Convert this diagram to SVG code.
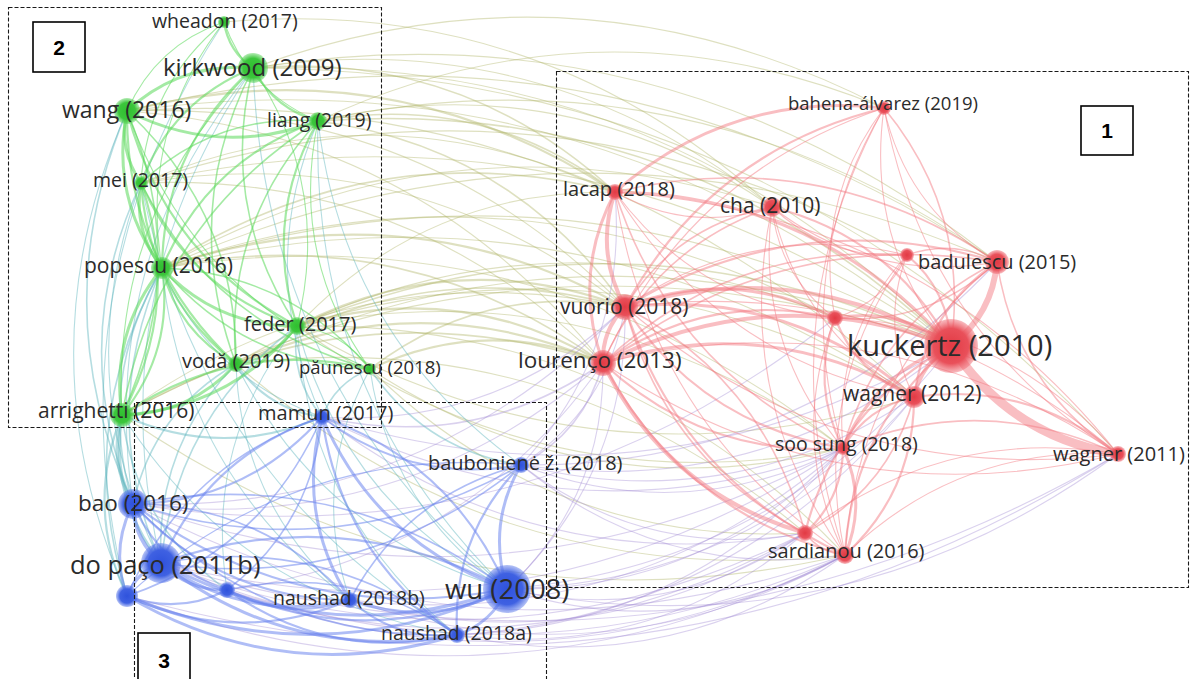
<svg xmlns="http://www.w3.org/2000/svg" xmlns:xlink="http://www.w3.org/1999/xlink" width="1193" height="679" viewBox="0 0 1193 679">
<defs>
  <!-- unit link: runs from (0,0) to (1,0); each link maps it with matrix(dx dy -dy dx x1 y1) -->
  <path id="lk" d="M0 0Q0.5 0.22 1 0" fill="none" vector-effect="non-scaling-stroke"/>
  <radialGradient id="gG"><stop offset="0" stop-color="#2fbf2f"/><stop offset="0.65" stop-color="#3cc63c"/><stop offset="1" stop-color="#55d255" stop-opacity="0.45"/></radialGradient>
  <radialGradient id="gR"><stop offset="0" stop-color="#e23a44"/><stop offset="0.65" stop-color="#e9505a"/><stop offset="1" stop-color="#ef6a73" stop-opacity="0.45"/></radialGradient>
  <radialGradient id="gB"><stop offset="0" stop-color="#2f52dc"/><stop offset="0.65" stop-color="#3f61e2"/><stop offset="1" stop-color="#5a78ea" stop-opacity="0.45"/></radialGradient>
</defs>
<style>
  .gg{stroke:#5ad85a;stroke-opacity:.55}
  .gb{stroke:#5cb4bd;stroke-opacity:.45}
  .gr{stroke:#b0b468;stroke-opacity:.42}
  .bb{stroke:#6680ee;stroke-opacity:.52}
  .br{stroke:#9f85d2;stroke-opacity:.38}
  .rr{stroke:#f27880;stroke-opacity:.48}
  .a{stroke-width:1.1}.b{stroke-width:1.6}.c{stroke-width:2.2}.d{stroke-width:3}.e{stroke-width:4}.f{stroke-width:6}.h{stroke-width:9}
  .node text{font-family:"Open Sans","Noto Sans","DejaVu Sans",sans-serif;fill:#2b2b2b}
  .ng circle{fill:url(#gG)}.nr circle{fill:url(#gR)}.nb circle{fill:url(#gB)}
  .frame{fill:none;stroke:#1a1a1a;stroke-width:1.1;stroke-dasharray:4 2}
  .tag rect{fill:#fff;stroke:#000;stroke-width:1.6}
  .tag text{font-family:"Liberation Sans",Arial,sans-serif;font-weight:bold;font-size:21px;fill:#000;text-anchor:middle}
</style>
<rect width="1193" height="679" fill="#fff"/>

<g id="links">
  <g class="gr">
    <use href="#lk" class="b" transform="matrix(-362 -124 124 -362 615 192)"/>
    <use href="#lk" class="c" transform="matrix(-488 -81 81 -488 615 192)"/>
    <use href="#lk" class="a" transform="matrix(-498 -196 196 -498 625 307)"/>
    <use href="#lk" class="c" transform="matrix(-463 -39 39 -463 625 307)"/>
    <use href="#lk" class="b" transform="matrix(-441 -95 95 -441 603 363)"/>
    <use href="#lk" class="c" transform="matrix(-306 -37 37 -306 603 363)"/>
    <use href="#lk" class="c" transform="matrix(-328 19 -19 -328 625 307)"/>
    <use href="#lk" class="a" transform="matrix(-698 -278 278 -698 951 346)"/>
    <use href="#lk" class="a" transform="matrix(-824 -235 235 -824 951 346)"/>
    <use href="#lk" class="b" transform="matrix(-633 -225 225 -633 951 346)"/>
    <use href="#lk" class="a" transform="matrix(-519 -139 139 -519 772 207)"/>
    <use href="#lk" class="a" transform="matrix(-631 -40 40 -631 884 108)"/>
    <use href="#lk" class="a" transform="matrix(-566 13 -13 -566 884 108)"/>
    <use href="#lk" class="a" transform="matrix(-870 -151 151 -870 997 262)"/>
    <use href="#lk" class="a" transform="matrix(-673 -50 50 -673 835 318)"/>
    <use href="#lk" class="a" transform="matrix(-617 -71 71 -617 914 397)"/>
    <use href="#lk" class="b" transform="matrix(-297 -71 71 -297 615 192)"/>
    <use href="#lk" class="b" transform="matrix(-307 -186 186 -307 625 307)"/>
    <use href="#lk" class="b" transform="matrix(-481 52 -52 -481 603 363)"/>
    <use href="#lk" class="c" transform="matrix(-367 1 -1 -367 603 363)"/>
    <use href="#lk" class="b" transform="matrix(-255 62 -62 -255 625 307)"/>
    <use href="#lk" class="c" transform="matrix(-233 6 -6 -233 603 363)"/>
    <use href="#lk" class="a" transform="matrix(-546 -122 122 -546 843 448)"/>
    <use href="#lk" class="a" transform="matrix(-766 -72 72 -766 907 255)"/>
    <use href="#lk" class="a" transform="matrix(-610 61 -61 -610 772 207)"/>
    <use href="#lk" class="a" transform="matrix(-810 -163 163 -810 951 346)"/>
    <use href="#lk" class="a" transform="matrix(-474 -9 9 -474 615 192)"/>
    <use href="#lk" class="a" transform="matrix(-503 108 -108 -503 625 307)"/>
    <use href="#lk" class="a" transform="matrix(-679 -141 141 -679 997 262)"/>
    <use href="#lk" class="a" transform="matrix(-865 -386 386 -865 1118 454)"/>
    <use href="#lk" class="a" transform="matrix(-744 -194 194 -744 997 262)"/>
    <use href="#lk" class="a" transform="matrix(-548 -185 185 -548 772 207)"/>
    <use href="#lk" class="a" transform="matrix(-787 -286 286 -787 914 397)"/>
    <use href="#lk" class="a" transform="matrix(-476 -252 252 -476 603 363)"/>
    <use href="#lk" class="a" transform="matrix(-462 -180 180 -462 603 363)"/>
    <use href="#lk" class="a" transform="matrix(-752 -129 129 -752 914 397)"/>
    <use href="#lk" class="a" transform="matrix(-789 -78 78 -789 951 346)"/>
    <use href="#lk" class="b" transform="matrix(-654 -20 20 -654 951 346)"/>
    <use href="#lk" class="a" transform="matrix(-715 18 -18 -715 951 346)"/>
    <use href="#lk" class="a" transform="matrix(-829 69 -69 -829 951 346)"/>
    <use href="#lk" class="a" transform="matrix(-538 8 -8 -538 835 318)"/>
    <use href="#lk" class="a" transform="matrix(-454 -86 86 -454 772 207)"/>
    <use href="#lk" class="b" transform="matrix(-453 76 -76 -453 615 192)"/>
    <use href="#lk" class="a" transform="matrix(-318 134 -134 -318 615 192)"/>
    <use href="#lk" class="a" transform="matrix(-681 -180 180 -681 843 448)"/>
    <use href="#lk" class="a" transform="matrix(-548 -229 229 -548 845 555)"/>
    <use href="#lk" class="a" transform="matrix(-569 -169 169 -569 805 533)"/>
    <use href="#lk" class="a" transform="matrix(-835 6 -6 -835 997 262)"/>
    <use href="#lk" class="a" transform="matrix(-484 -124 124 -484 625 307)"/>
    <use href="#lk" class="b" transform="matrix(-389 57 -57 -389 625 307)"/>
    <use href="#lk" class="a" transform="matrix(473 79 -79 473 370 369)"/>
    <use href="#lk" class="a" transform="matrix(617 71 -71 617 297 326)"/>
    <use href="#lk" class="a" transform="matrix(609 191 -191 609 236 364)"/>
    <use href="#lk" class="a" transform="matrix(435 164 -164 435 370 369)"/>
    <use href="#lk" class="a" transform="matrix(546 122 -122 546 297 326)"/>
    <use href="#lk" class="a" transform="matrix(723 140 -140 723 122 415)"/>
  </g>
  <g class="br">
    <use href="#lk" class="a" transform="matrix(338 -34 34 338 507 589)"/>
    <use href="#lk" class="a" transform="matrix(298 -56 56 298 507 589)"/>
    <use href="#lk" class="a" transform="matrix(444 -243 243 444 507 589)"/>
    <use href="#lk" class="a" transform="matrix(388 -80 80 388 457 635)"/>
    <use href="#lk" class="a" transform="matrix(348 -102 102 348 457 635)"/>
    <use href="#lk" class="a" transform="matrix(718 -41 41 718 127 596)"/>
    <use href="#lk" class="a" transform="matrix(644 -30 30 644 161 563)"/>
    <use href="#lk" class="a" transform="matrix(682 -115 115 682 161 563)"/>
    <use href="#lk" class="a" transform="matrix(470 -141 141 470 133 504)"/>
    <use href="#lk" class="a" transform="matrix(492 -197 197 492 133 504)"/>
    <use href="#lk" class="b" transform="matrix(82 -102 102 82 521 465)"/>
    <use href="#lk" class="a" transform="matrix(104 -158 158 104 521 465)"/>
    <use href="#lk" class="a" transform="matrix(322 -17 17 322 521 465)"/>
    <use href="#lk" class="a" transform="matrix(393 -68 68 393 521 465)"/>
    <use href="#lk" class="b" transform="matrix(281 -54 54 281 322 417)"/>
    <use href="#lk" class="a" transform="matrix(303 -110 110 303 322 417)"/>
    <use href="#lk" class="a" transform="matrix(629 -71 71 629 322 417)"/>
    <use href="#lk" class="a" transform="matrix(96 -226 226 96 507 589)"/>
    <use href="#lk" class="a" transform="matrix(336 -141 141 336 507 589)"/>
    <use href="#lk" class="a" transform="matrix(495 -45 45 495 350 600)"/>
    <use href="#lk" class="a" transform="matrix(493 -152 152 493 350 600)"/>
    <use href="#lk" class="a" transform="matrix(618 -35 35 618 227 590)"/>
    <use href="#lk" class="a" transform="matrix(376 -227 227 376 227 590)"/>
    <use href="#lk" class="a" transform="matrix(611 -135 135 611 507 589)"/>
    <use href="#lk" class="a" transform="matrix(457 -238 238 457 457 635)"/>
    <use href="#lk" class="a" transform="matrix(284 68 -68 284 521 465)"/>
    <use href="#lk" class="a" transform="matrix(324 90 -90 324 521 465)"/>
    <use href="#lk" class="a" transform="matrix(702 -186 186 702 133 504)"/>
    <use href="#lk" class="a" transform="matrix(957 -109 109 957 161 563)"/>
    <use href="#lk" class="a" transform="matrix(991 -142 142 991 127 596)"/>
    <use href="#lk" class="a" transform="matrix(430 -119 119 430 521 465)"/>
    <use href="#lk" class="a" transform="matrix(476 -203 203 476 521 465)"/>
    <use href="#lk" class="a" transform="matrix(407 -192 192 407 507 589)"/>
    <use href="#lk" class="a" transform="matrix(386 -187 187 386 457 635)"/>
    <use href="#lk" class="a" transform="matrix(521 31 -31 521 322 417)"/>
    <use href="#lk" class="a" transform="matrix(483 116 -116 483 322 417)"/>
    <use href="#lk" class="a" transform="matrix(710 -56 56 710 133 504)"/>
    <use href="#lk" class="a" transform="matrix(712 51 -51 712 133 504)"/>
    <use href="#lk" class="a" transform="matrix(684 -8 8 684 161 563)"/>
    <use href="#lk" class="a" transform="matrix(455 -67 67 455 350 600)"/>
    <use href="#lk" class="a" transform="matrix(578 -57 57 578 227 590)"/>
    <use href="#lk" class="a" transform="matrix(118 -282 282 118 507 589)"/>
    <use href="#lk" class="a" transform="matrix(94 -273 273 94 521 465)"/>
  </g>
  <g class="gb">
    <use href="#lk" class="d" transform="matrix(11 89 -89 11 122 415)"/>
    <use href="#lk" class="d" transform="matrix(39 148 -148 39 122 415)"/>
    <use href="#lk" class="c" transform="matrix(5 181 -181 5 122 415)"/>
    <use href="#lk" class="c" transform="matrix(200 2 -2 200 122 415)"/>
    <use href="#lk" class="b" transform="matrix(-29 236 -236 -29 162 268)"/>
    <use href="#lk" class="b" transform="matrix(-1 295 -295 -1 162 268)"/>
    <use href="#lk" class="a" transform="matrix(0 485 -485 0 127 111)"/>
    <use href="#lk" class="a" transform="matrix(-120 436 -436 -120 253 68)"/>
    <use href="#lk" class="a" transform="matrix(20 380 -380 20 141 183)"/>
    <use href="#lk" class="a" transform="matrix(-97 574 -574 -97 224 22)"/>
    <use href="#lk" class="b" transform="matrix(25 91 -91 25 297 326)"/>
    <use href="#lk" class="a" transform="matrix(210 263 -263 210 297 326)"/>
    <use href="#lk" class="b" transform="matrix(-75 199 -199 -75 236 364)"/>
    <use href="#lk" class="c" transform="matrix(86 53 -53 86 236 364)"/>
    <use href="#lk" class="a" transform="matrix(114 236 -236 114 236 364)"/>
    <use href="#lk" class="a" transform="matrix(4 296 -296 4 318 121)"/>
    <use href="#lk" class="a" transform="matrix(189 468 -468 189 318 121)"/>
    <use href="#lk" class="b" transform="matrix(151 96 -96 151 370 369)"/>
    <use href="#lk" class="a" transform="matrix(137 220 -220 137 370 369)"/>
    <use href="#lk" class="a" transform="matrix(-70 264 -264 -70 297 326)"/>
    <use href="#lk" class="a" transform="matrix(188 332 -332 188 162 268)"/>
    <use href="#lk" class="a" transform="matrix(316 452 -452 316 141 183)"/>
    <use href="#lk" class="a" transform="matrix(254 521 -521 254 253 68)"/>
    <use href="#lk" class="a" transform="matrix(335 220 -220 335 122 415)"/>
    <use href="#lk" class="b" transform="matrix(105 175 -175 105 122 415)"/>
    <use href="#lk" class="a" transform="matrix(160 149 -149 160 162 268)"/>
    <use href="#lk" class="b" transform="matrix(6 393 -393 6 127 111)"/>
    <use href="#lk" class="b" transform="matrix(-8 321 -321 -8 141 183)"/>
    <use href="#lk" class="b" transform="matrix(-35 328 -328 -35 162 268)"/>
    <use href="#lk" class="a" transform="matrix(-92 495 -495 -92 253 68)"/>
    <use href="#lk" class="a" transform="matrix(271 225 -225 271 236 364)"/>
    <use href="#lk" class="b" transform="matrix(-103 140 -140 -103 236 364)"/>
    <use href="#lk" class="b" transform="matrix(-136 237 -237 -136 297 326)"/>
    <use href="#lk" class="a" transform="matrix(160 309 -309 160 297 326)"/>
    <use href="#lk" class="a" transform="matrix(-20 231 -231 -20 370 369)"/>
    <use href="#lk" class="b" transform="matrix(-48 48 -48 -48 370 369)"/>
    <use href="#lk" class="a" transform="matrix(203 344 -344 203 318 121)"/>
  </g>
  <g class="gg">
    <use href="#lk" class="c" transform="matrix(29 46 -46 29 224 22)"/>
    <use href="#lk" class="d" transform="matrix(-126 43 -43 -126 253 68)"/>
    <use href="#lk" class="d" transform="matrix(191 10 -10 191 127 111)"/>
    <use href="#lk" class="c" transform="matrix(65 53 -53 65 253 68)"/>
    <use href="#lk" class="d" transform="matrix(14 72 -72 14 127 111)"/>
    <use href="#lk" class="d" transform="matrix(35 157 -157 35 127 111)"/>
    <use href="#lk" class="d" transform="matrix(21 85 -85 21 141 183)"/>
    <use href="#lk" class="d" transform="matrix(135 58 -58 135 162 268)"/>
    <use href="#lk" class="d" transform="matrix(-40 147 -147 -40 162 268)"/>
    <use href="#lk" class="c" transform="matrix(74 96 -96 74 162 268)"/>
    <use href="#lk" class="c" transform="matrix(170 215 -215 170 127 111)"/>
    <use href="#lk" class="c" transform="matrix(109 253 -253 109 127 111)"/>
    <use href="#lk" class="c" transform="matrix(-91 200 -200 -91 253 68)"/>
    <use href="#lk" class="b" transform="matrix(44 258 -258 44 253 68)"/>
    <use href="#lk" class="c" transform="matrix(-21 205 -205 -21 318 121)"/>
    <use href="#lk" class="c" transform="matrix(-156 147 -147 -156 318 121)"/>
    <use href="#lk" class="b" transform="matrix(-82 243 -243 -82 318 121)"/>
    <use href="#lk" class="b" transform="matrix(-196 294 -294 -196 318 121)"/>
    <use href="#lk" class="d" transform="matrix(114 -51 51 114 122 415)"/>
    <use href="#lk" class="d" transform="matrix(175 -89 89 175 122 415)"/>
    <use href="#lk" class="c" transform="matrix(19 -232 232 19 122 415)"/>
    <use href="#lk" class="b" transform="matrix(5 -304 304 5 122 415)"/>
    <use href="#lk" class="c" transform="matrix(156 143 -143 156 141 183)"/>
    <use href="#lk" class="c" transform="matrix(95 181 -181 95 141 183)"/>
    <use href="#lk" class="c" transform="matrix(61 -38 38 61 236 364)"/>
    <use href="#lk" class="b" transform="matrix(-208 -101 101 -208 370 369)"/>
    <use href="#lk" class="c" transform="matrix(-248 46 -46 -248 370 369)"/>
    <use href="#lk" class="a" transform="matrix(-97 89 -89 -97 224 22)"/>
    <use href="#lk" class="a" transform="matrix(-131 347 -347 -131 253 68)"/>
    <use href="#lk" class="a" transform="matrix(-62 246 -246 -62 224 22)"/>
    <use href="#lk" class="c" transform="matrix(-112 115 -115 -112 253 68)"/>
    <use href="#lk" class="b" transform="matrix(-177 62 -62 -177 318 121)"/>
    <use href="#lk" class="a" transform="matrix(-73 -43 43 -73 370 369)"/>
    <use href="#lk" class="a" transform="matrix(94 99 -99 94 224 22)"/>
    <use href="#lk" class="a" transform="matrix(-83 161 -161 -83 224 22)"/>
    <use href="#lk" class="b" transform="matrix(-17 296 -296 -17 253 68)"/>
    <use href="#lk" class="a" transform="matrix(243 258 -258 243 127 111)"/>
    <use href="#lk" class="b" transform="matrix(229 186 -186 229 141 183)"/>
    <use href="#lk" class="b" transform="matrix(208 101 -101 208 162 268)"/>
    <use href="#lk" class="a" transform="matrix(52 248 -248 52 318 121)"/>
    <use href="#lk" class="c" transform="matrix(40 -147 147 40 122 415)"/>
    <use href="#lk" class="a" transform="matrix(-44 -258 258 -44 297 326)"/>
    <use href="#lk" class="b" transform="matrix(-109 -253 253 -109 236 364)"/>
  </g>
  <g class="bb">
    <use href="#lk" class="e" transform="matrix(28 59 -59 28 133 504)"/>
    <use href="#lk" class="d" transform="matrix(-34 33 -33 -34 161 563)"/>
    <use href="#lk" class="d" transform="matrix(-6 92 -92 -6 133 504)"/>
    <use href="#lk" class="d" transform="matrix(66 27 -27 66 161 563)"/>
    <use href="#lk" class="d" transform="matrix(189 37 -37 189 161 563)"/>
    <use href="#lk" class="d" transform="matrix(346 26 -26 346 161 563)"/>
    <use href="#lk" class="d" transform="matrix(296 72 -72 296 161 563)"/>
    <use href="#lk" class="d" transform="matrix(380 -7 7 380 127 596)"/>
    <use href="#lk" class="d" transform="matrix(330 39 -39 330 127 596)"/>
    <use href="#lk" class="c" transform="matrix(223 4 -4 223 127 596)"/>
    <use href="#lk" class="c" transform="matrix(374 85 -85 374 133 504)"/>
    <use href="#lk" class="c" transform="matrix(217 96 -96 217 133 504)"/>
    <use href="#lk" class="c" transform="matrix(189 -87 87 189 133 504)"/>
    <use href="#lk" class="d" transform="matrix(185 172 -172 185 322 417)"/>
    <use href="#lk" class="d" transform="matrix(28 183 -183 28 322 417)"/>
    <use href="#lk" class="c" transform="matrix(135 218 -218 135 322 417)"/>
    <use href="#lk" class="c" transform="matrix(-161 146 -146 -161 322 417)"/>
    <use href="#lk" class="c" transform="matrix(199 48 -48 199 322 417)"/>
    <use href="#lk" class="d" transform="matrix(-14 124 -124 -14 521 465)"/>
    <use href="#lk" class="c" transform="matrix(-64 170 -170 -64 521 465)"/>
    <use href="#lk" class="d" transform="matrix(157 -11 11 157 350 600)"/>
    <use href="#lk" class="c" transform="matrix(107 35 -35 107 350 600)"/>
    <use href="#lk" class="d" transform="matrix(50 -46 46 50 457 635)"/>
    <use href="#lk" class="c" transform="matrix(280 -1 1 280 227 590)"/>
    <use href="#lk" class="c" transform="matrix(230 45 -45 230 227 590)"/>
    <use href="#lk" class="c" transform="matrix(123 10 -10 123 227 590)"/>
    <use href="#lk" class="b" transform="matrix(388 -39 39 388 133 504)"/>
    <use href="#lk" class="b" transform="matrix(360 -98 98 360 161 563)"/>
    <use href="#lk" class="b" transform="matrix(95 -173 173 95 227 590)"/>
    <use href="#lk" class="b" transform="matrix(195 -179 179 195 127 596)"/>
    <use href="#lk" class="b" transform="matrix(324 131 -131 324 133 504)"/>
    <use href="#lk" class="c" transform="matrix(94 86 -86 94 133 504)"/>
    <use href="#lk" class="c" transform="matrix(100 -6 6 100 127 596)"/>
    <use href="#lk" class="b" transform="matrix(-195 179 -179 -195 322 417)"/>
    <use href="#lk" class="b" transform="matrix(-171 135 -135 -171 521 465)"/>
    <use href="#lk" class="a" transform="matrix(-394 131 -131 -394 521 465)"/>
    <use href="#lk" class="b" transform="matrix(-374 -85 85 -374 507 589)"/>
    <use href="#lk" class="c" transform="matrix(-185 -172 172 -185 507 589)"/>
    <use href="#lk" class="b" transform="matrix(-296 -72 72 -296 457 635)"/>
    <use href="#lk" class="b" transform="matrix(-217 -96 96 -217 350 600)"/>
    <use href="#lk" class="c" transform="matrix(-346 -26 26 -346 507 589)"/>
    <use href="#lk" class="b" transform="matrix(-230 -45 45 -230 457 635)"/>
  </g>
  <g class="rr">
    <use href="#lk" class="f" transform="matrix(46 -84 84 46 951 346)"/>
    <use href="#lk" class="h" transform="matrix(167 108 -108 167 951 346)"/>
    <use href="#lk" class="e" transform="matrix(-37 51 -51 -37 951 346)"/>
    <use href="#lk" class="e" transform="matrix(-326 -39 39 -326 951 346)"/>
    <use href="#lk" class="e" transform="matrix(-348 17 -17 -348 951 346)"/>
    <use href="#lk" class="d" transform="matrix(-116 -28 28 -116 951 346)"/>
    <use href="#lk" class="c" transform="matrix(-179 -139 139 -179 951 346)"/>
    <use href="#lk" class="d" transform="matrix(-336 -154 154 -336 951 346)"/>
    <use href="#lk" class="d" transform="matrix(-108 102 -102 -108 951 346)"/>
    <use href="#lk" class="c" transform="matrix(-106 209 -209 -106 951 346)"/>
    <use href="#lk" class="c" transform="matrix(-146 187 -187 -146 951 346)"/>
    <use href="#lk" class="b" transform="matrix(-67 -238 238 -67 951 346)"/>
    <use href="#lk" class="c" transform="matrix(-44 -91 91 -44 951 346)"/>
    <use href="#lk" class="e" transform="matrix(10 115 -115 10 615 192)"/>
    <use href="#lk" class="d" transform="matrix(-12 171 -171 -12 615 192)"/>
    <use href="#lk" class="e" transform="matrix(-22 56 -56 -22 625 307)"/>
    <use href="#lk" class="d" transform="matrix(-269 84 -84 -269 884 108)"/>
    <use href="#lk" class="c" transform="matrix(-259 199 -199 -259 884 108)"/>
    <use href="#lk" class="b" transform="matrix(-169 156 -156 -169 772 207)"/>
    <use href="#lk" class="b" transform="matrix(-147 100 -100 -147 772 207)"/>
    <use href="#lk" class="d" transform="matrix(-210 -11 11 -210 835 318)"/>
    <use href="#lk" class="c" transform="matrix(-232 45 -45 -232 835 318)"/>
    <use href="#lk" class="d" transform="matrix(-289 -90 90 -289 914 397)"/>
    <use href="#lk" class="d" transform="matrix(-311 -34 34 -311 914 397)"/>
    <use href="#lk" class="c" transform="matrix(218 141 -141 218 625 307)"/>
    <use href="#lk" class="c" transform="matrix(240 85 -85 240 603 363)"/>
    <use href="#lk" class="e" transform="matrix(202 170 -170 202 603 363)"/>
    <use href="#lk" class="c" transform="matrix(220 248 -248 220 625 307)"/>
    <use href="#lk" class="b" transform="matrix(228 256 -256 228 615 192)"/>
    <use href="#lk" class="a" transform="matrix(230 363 -363 230 615 192)"/>
    <use href="#lk" class="c" transform="matrix(-83 135 -135 -83 997 262)"/>
    <use href="#lk" class="b" transform="matrix(121 192 -192 121 997 262)"/>
    <use href="#lk" class="b" transform="matrix(-90 -7 7 -90 997 262)"/>
    <use href="#lk" class="b" transform="matrix(-154 186 -186 -154 997 262)"/>
    <use href="#lk" class="a" transform="matrix(-152 293 -293 -152 997 262)"/>
    <use href="#lk" class="b" transform="matrix(-382 -70 70 -382 997 262)"/>
    <use href="#lk" class="c" transform="matrix(-372 45 -45 -372 997 262)"/>
    <use href="#lk" class="b" transform="matrix(-394 101 -101 -394 997 262)"/>
    <use href="#lk" class="b" transform="matrix(-304 108 -108 -304 907 255)"/>
    <use href="#lk" class="a" transform="matrix(-282 52 -52 -282 907 255)"/>
    <use href="#lk" class="a" transform="matrix(7 142 -142 7 907 255)"/>
    <use href="#lk" class="a" transform="matrix(-64 193 -193 -64 907 255)"/>
    <use href="#lk" class="a" transform="matrix(63 111 -111 63 772 207)"/>
    <use href="#lk" class="a" transform="matrix(71 241 -241 71 772 207)"/>
    <use href="#lk" class="a" transform="matrix(73 348 -348 73 772 207)"/>
    <use href="#lk" class="a" transform="matrix(225 55 -55 225 772 207)"/>
    <use href="#lk" class="a" transform="matrix(142 190 -190 142 772 207)"/>
    <use href="#lk" class="a" transform="matrix(67 238 -238 67 884 108)"/>
    <use href="#lk" class="a" transform="matrix(113 154 -154 113 884 108)"/>
    <use href="#lk" class="a" transform="matrix(234 346 -346 234 884 108)"/>
    <use href="#lk" class="a" transform="matrix(-41 340 -340 -41 884 108)"/>
    <use href="#lk" class="a" transform="matrix(-49 210 -210 -49 884 108)"/>
    <use href="#lk" class="c" transform="matrix(-204 -57 57 -204 1118 454)"/>
    <use href="#lk" class="b" transform="matrix(-275 -6 6 -275 1118 454)"/>
    <use href="#lk" class="a" transform="matrix(-515 -91 91 -515 1118 454)"/>
    <use href="#lk" class="a" transform="matrix(-493 -147 147 -493 1118 454)"/>
    <use href="#lk" class="a" transform="matrix(-273 101 -101 -273 1118 454)"/>
    <use href="#lk" class="a" transform="matrix(-313 79 -79 -313 1118 454)"/>
    <use href="#lk" class="a" transform="matrix(-283 -136 136 -283 1118 454)"/>
    <use href="#lk" class="a" transform="matrix(-503 -262 262 -503 1118 454)"/>
    <use href="#lk" class="d" transform="matrix(-2 -107 107 -2 845 555)"/>
    <use href="#lk" class="c" transform="matrix(69 -158 158 69 845 555)"/>
    <use href="#lk" class="c" transform="matrix(38 -85 85 38 805 533)"/>
    <use href="#lk" class="b" transform="matrix(109 -136 136 109 805 533)"/>
    <use href="#lk" class="b" transform="matrix(40 22 -22 40 805 533)"/>
    <use href="#lk" class="b" transform="matrix(-180 -226 226 -180 805 533)"/>
    <use href="#lk" class="c" transform="matrix(-71 51 -51 -71 914 397)"/>
    <use href="#lk" class="c" transform="matrix(8 130 -130 8 835 318)"/>
    <use href="#lk" class="c" transform="matrix(79 79 -79 79 835 318)"/>
    <use href="#lk" class="a" transform="matrix(10 237 -237 10 835 318)"/>
    <use href="#lk" class="a" transform="matrix(157 15 -15 157 615 192)"/>
    <use href="#lk" class="a" transform="matrix(220 126 -126 220 615 192)"/>
    <use href="#lk" class="a" transform="matrix(299 205 -205 299 615 192)"/>
    <use href="#lk" class="b" transform="matrix(180 226 -226 180 625 307)"/>
    <use href="#lk" class="c" transform="matrix(242 192 -192 242 603 363)"/>
    <use href="#lk" class="a" transform="matrix(515 91 -91 515 603 363)"/>
    <use href="#lk" class="a" transform="matrix(493 147 -147 493 625 307)"/>
    <use href="#lk" class="a" transform="matrix(72 -63 63 72 835 318)"/>
    <use href="#lk" class="b" transform="matrix(162 -56 56 162 835 318)"/>
    <use href="#lk" class="a" transform="matrix(-62 300 -300 -62 907 255)"/>
    <use href="#lk" class="a" transform="matrix(-39 447 -447 -39 884 108)"/>
    <use href="#lk" class="a" transform="matrix(-281 255 -255 -281 884 108)"/>
    <use href="#lk" class="a" transform="matrix(135 48 -48 135 772 207)"/>
  </g>
</g>

<g id="nodes">
  <!-- cluster 2 (green) -->
  <g id="n-wheadon-2017" class="node ng"><circle cx="224" cy="22" r="6"/><text x="152" y="28" font-size="19.5">wheadon (2017)</text></g>
  <g id="n-kirkwood-2009" class="node ng"><circle cx="253" cy="68" r="15"/><text x="163" y="76" font-size="24">kirkwood (2009)</text></g>
  <g id="n-wang-2016" class="node ng"><circle cx="127" cy="111" r="13"/><text x="62" y="118" font-size="23">wang (2016)</text></g>
  <g id="n-liang-2019" class="node ng"><circle cx="318" cy="121" r="9"/><text x="267" y="127" font-size="19.5">liang (2019)</text></g>
  <g id="n-mei-2017" class="node ng"><circle cx="141" cy="183" r="7"/><text x="93" y="187" font-size="19.5">mei (2017)</text></g>
  <g id="n-popescu-2016" class="node ng"><circle cx="162" cy="268" r="11"/><text x="84" y="273" font-size="21">popescu (2016)</text></g>
  <g id="n-feder-2017" class="node ng"><circle cx="297" cy="326" r="9"/><text x="244" y="331" font-size="20">feder (2017)</text></g>
  <g id="n-voda-2019" class="node ng"><circle cx="236" cy="364" r="8"/><text x="182" y="368" font-size="20">vodă (2019)</text></g>
  <g id="n-paunescu-2018" class="node ng"><circle cx="370" cy="369" r="6"/><text x="299" y="374" font-size="18.5">păunescu (2018)</text></g>
  <g id="n-arrighetti-2016" class="node ng"><circle cx="122" cy="415" r="12"/><text x="38" y="418" font-size="21">arrighetti (2016)</text></g>
  <!-- cluster 3 (blue) -->
  <g id="n-mamun-2017" class="node nb"><circle cx="322" cy="417" r="8"/><text x="258" y="420" font-size="20">mamun (2017)</text></g>
  <g id="n-bauboniene-2018" class="node nb"><circle cx="521" cy="465" r="8"/><text x="428" y="470" font-size="20">baubonienė ž. (2018)</text></g>
  <g id="n-bao-2016" class="node nb"><circle cx="133" cy="504" r="15"/><text x="78" y="511" font-size="22.5">bao (2016)</text></g>
  <g id="n-dopaco-2011b" class="node nb"><circle cx="161" cy="563" r="20"/><text x="70" y="574" font-size="25.5">do paço (2011b)</text></g>
  <g id="n-blue-a" class="node nb"><circle cx="127" cy="596" r="11"/></g>
  <g id="n-blue-b" class="node nb"><circle cx="227" cy="590" r="8"/></g>
  <g id="n-naushad-2018b" class="node nb"><circle cx="350" cy="600" r="8"/><text x="273" y="605" font-size="19.5">naushad (2018b)</text></g>
  <g id="n-wu-2008" class="node nb"><circle cx="507" cy="589" r="24"/><text x="445" y="599" font-size="27.5">wu (2008)</text></g>
  <g id="n-naushad-2018a" class="node nb"><circle cx="457" cy="635" r="8"/><text x="381" y="640" font-size="19.5">naushad (2018a)</text></g>
  <!-- cluster 1 (red) -->
  <g id="n-bahena-2019" class="node nr"><circle cx="884" cy="108" r="7"/><text x="788" y="110" font-size="18.5">bahena-álvarez (2019)</text></g>
  <g id="n-lacap-2018" class="node nr"><circle cx="615" cy="192" r="8"/><text x="563" y="196" font-size="20">lacap (2018)</text></g>
  <g id="n-cha-2010" class="node nr"><circle cx="772" cy="207" r="10"/><text x="720" y="213" font-size="21">cha (2010)</text></g>
  <g id="n-red-a" class="node nr"><circle cx="907" cy="255" r="7"/></g>
  <g id="n-badulescu-2015" class="node nr"><circle cx="997" cy="262" r="12"/><text x="918" y="269" font-size="20">badulescu (2015)</text></g>
  <g id="n-vuorio-2018" class="node nr"><circle cx="625" cy="307" r="13"/><text x="560" y="314" font-size="21">vuorio (2018)</text></g>
  <g id="n-red-b" class="node nr"><circle cx="835" cy="318" r="8"/></g>
  <g id="n-kuckertz-2010" class="node nr"><circle cx="951" cy="346" r="27"/><text x="847" y="356" font-size="29">kuckertz (2010)</text></g>
  <g id="n-lourenco-2013" class="node nr"><circle cx="603" cy="363" r="13"/><text x="518" y="368" font-size="22.5">lourenço (2013)</text></g>
  <g id="n-wagner-2012" class="node nr"><circle cx="914" cy="397" r="11"/><text x="843" y="401" font-size="21">wagner (2012)</text></g>
  <g id="n-soosung-2018" class="node nr"><circle cx="843" cy="448" r="7"/><text x="775" y="451" font-size="19.5">soo sung (2018)</text></g>
  <g id="n-wagner-2011" class="node nr"><circle cx="1118" cy="454" r="8"/><text x="1053" y="461" font-size="20">wagner (2011)</text></g>
  <g id="n-red-c" class="node nr"><circle cx="805" cy="533" r="8"/></g>
  <g id="n-sardianou-2016" class="node nr"><circle cx="845" cy="555" r="9"/><text x="768" y="558" font-size="20">sardianou (2016)</text></g>
</g>

<g id="clusters">
  <rect class="frame" x="8.5" y="7.5" width="373" height="420"/>
  <rect class="frame" x="556.5" y="71.5" width="632" height="516"/>
  <path class="frame" d="M134.5 683V402.5H546.5V683"/>
  <g class="tag"><rect x="33" y="22" width="52" height="50"/><text x="59" y="55">2</text></g>
  <g class="tag"><rect x="1081" y="106" width="52" height="49"/><text x="1107" y="138">1</text></g>
  <g class="tag"><rect x="138" y="633" width="52" height="50"/><text x="164" y="668">3</text></g>
</g>
</svg>
